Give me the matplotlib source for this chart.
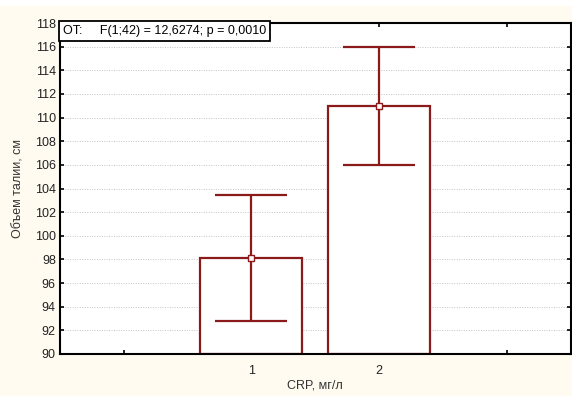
import numpy as np
import matplotlib.pyplot as plt
from matplotlib.patches import Rectangle

# data
groups = [1, 2]
group_labels = ['1', '2']
means = [98.15, 110.95]
err_low = [92.8, 105.95]
err_high = [103.45, 116.0]
stat_text = 'OT:     F(1;42) = 12,6274; p = 0,0010'

plt.rcParams['font.family'] = ['Liberation Sans', 'DejaVu Sans']

red = '#8b1a1a'
cream = '#fffbf0'
fs = 9

fig = plt.figure(figsize=(5.72, 3.96), dpi=100, facecolor=cream)
fig.patches.append(Rectangle((0, 390 / 396), 1, 6 / 396, transform=fig.transFigure,
                             facecolor='white', edgecolor='none', zorder=0))
ax = fig.add_axes([60 / 572, 42 / 396, 510.5 / 572, 331 / 396])

x = np.array(groups)
m = np.array(means)
yerr = [m - np.array(err_low), np.array(err_high) - m]

ax.bar(x, m - 90, bottom=90, width=0.8, facecolor='white', edgecolor=red,
       linewidth=1.6, zorder=2)
ax.errorbar(x, m, yerr=yerr, fmt='none', ecolor=red, elinewidth=1.6,
            capsize=26, capthick=1.6, zorder=3)
ax.plot(x, m, 's', ms=4.5, mfc='white', mec=red, mew=1.0, zorder=4)

ax.set_xlim(-0.5, 3.5)
ax.set_ylim(90, 118)
ax.set_xticks([0, 1, 2, 3])
ax.set_xticklabels([''] + group_labels + [''])
ax.set_yticks(np.arange(90, 119, 2))
ax.tick_params(direction='in', length=3, width=1.2, top=True, right=True,
               labelsize=fs, pad=3, labelcolor='#222222')
ax.tick_params(axis='x', pad=8)
ax.yaxis.grid(True, linestyle=(0, (1, 1.5)), color='#c4c4c4', linewidth=0.7)
ax.set_axisbelow(True)
for s in ax.spines.values():
    s.set_linewidth(1.5)

ax.set_xlabel('CRP, мг/л', fontsize=fs, color='#333333')
ax.xaxis.set_label_coords(0.5, -(380 - 354) / 331)
ax.set_ylabel('Объем талии, см', fontsize=fs, color='#333333')
ax.yaxis.set_label_coords(-(60 - 25) / 510.5, 0.5)

ax.text(3 / 510.5, 0.994, stat_text, transform=ax.transAxes, fontsize=fs,
        va='top', ha='left', zorder=5,
        bbox=dict(boxstyle='square,pad=0.3', facecolor='white',
                  edgecolor='black', linewidth=1.3))

fig.savefig('out.png', dpi=100, facecolor=fig.get_facecolor())
